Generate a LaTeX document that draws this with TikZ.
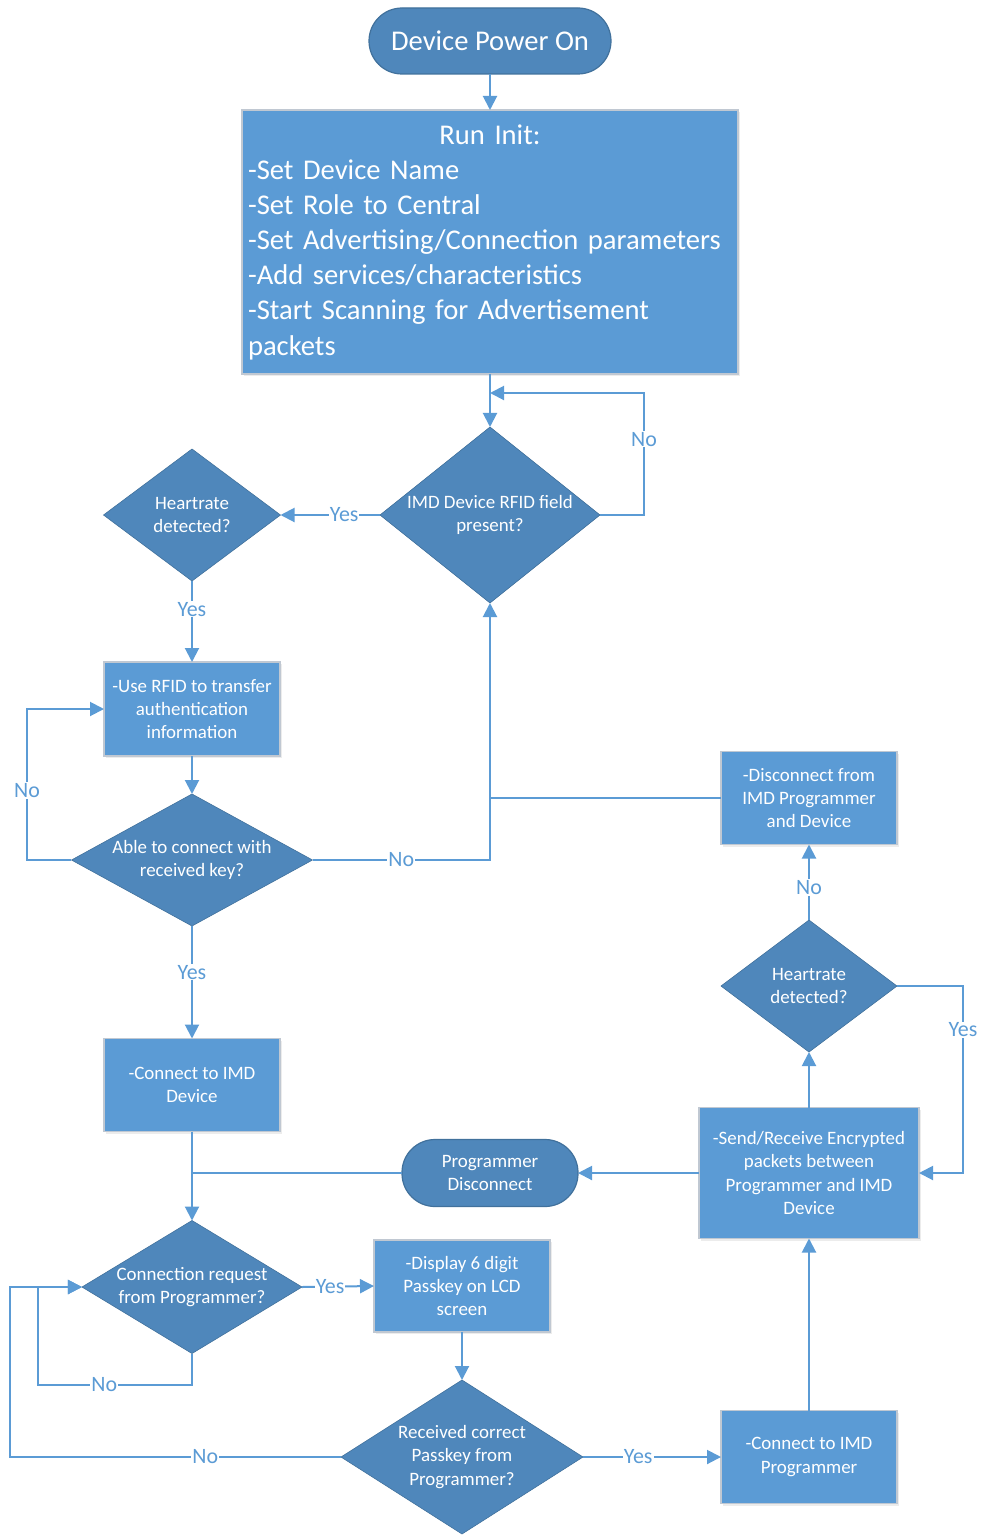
\documentclass[tikz,border=0pt]{standalone}
\usepackage{fontspec}
\setmainfont{Carlito}
\usetikzlibrary{arrows.meta,shapes.geometric,shadows}
\definecolor{boxblue}{RGB}{91,155,213}
\definecolor{decblue}{RGB}{79,135,187}
\definecolor{edgeblue}{RGB}{65,113,156}
\definecolor{boxedge}{RGB}{192,200,210}
\definecolor{lineblue}{RGB}{91,155,213}
\begin{document}
\begin{tikzpicture}[x=1bp,y=-1bp,
  base/.style={text=white, font=\fontsize{19}{23.2}\selectfont, inner sep=0pt, outer sep=0pt},
  bigtext/.style={font=\fontsize{28.7}{35.3}\selectfont},
  term/.style={base, rectangle, rounded corners=33bp, fill=decblue, draw=edgeblue,
    line width=1.2bp, align=center},
  procbox/.style={base, rectangle, fill=boxblue, draw=boxedge, line width=1.5bp,
    align=center, drop shadow={opacity=0.15, shadow xshift=1.5bp, shadow yshift=-2bp}},
  decision/.style={diamond, fill=decblue, draw=edgeblue, line width=0.6bp,
    inner sep=0pt, outer sep=0pt},
  dtext/.style={base, align=center},
  conn/.style={draw=lineblue, line width=2bp},
  arr/.style={conn, -{Triangle[length=14bp,width=14bp]}},
  lbl/.style={font=\fontsize{22}{24}\selectfont, text=lineblue, fill=white, inner sep=1bp}
]
\useasboundingbox (0,0) rectangle (983,1535);

% ---- nodes ----
\node[term, bigtext, minimum width=242bp, minimum height=66bp] (power) at (490,41) {Device Power On};

\node[procbox, bigtext, align=left, text width=484bp, minimum width=496bp, minimum height=264bp]
  (init) at (490,242) {\makebox[\linewidth][c]{Run Init:}\\
  -Set Device Name\\
  -Set Role to Central\\
  -Set Advertising/Connection parameters\\
  -Add services/characteristics\\
  -Start Scanning for Advertisement\\
  packets};

\node[decision, minimum width=220bp, minimum height=176bp] (d1) at (490,515) {};
\node[dtext] (d1t) at (d1) {IMD Device RFID field\\present?};

\node[decision, minimum width=177bp, minimum height=132bp] (d2) at (192,515) {};
\node[dtext] (d2t) at (d2) {Heartrate\\detected?};

\node[procbox, minimum width=176bp, minimum height=94bp] (rfid) at (192,709)
  {-Use RFID to transfer\\authentication\\information};

\node[decision, minimum width=241bp, minimum height=132bp] (d3) at (192,860) {};
\node[dtext] (d3t) at (d3) {Able to connect with\\received key?};

\node[procbox, minimum width=176bp, minimum height=93bp] (disc) at (809,798)
  {-Disconnect from\\IMD Programmer\\and Device};

\node[decision, minimum width=176bp, minimum height=132bp] (d4) at (809,986) {};
\node[dtext] (d4t) at (d4) {Heartrate\\detected?};

\node[procbox, minimum width=176bp, minimum height=93bp] (conndev) at (192,1085)
  {-Connect to IMD\\Device};

\node[procbox, minimum width=220bp, minimum height=131bp] (sr) at (809,1173)
  {-Send/Receive Encrypted\\packets between\\Programmer and IMD\\Device};

\node[term, minimum width=176bp, minimum height=67bp] (pdisc) at (490,1173)
  {Programmer\\Disconnect};

\node[decision, minimum width=220bp, minimum height=133bp] (d5) at (192,1287) {};
\node[dtext] (d5t) at (d5) {Connection request\\from Programmer?};

\node[procbox, minimum width=176bp, minimum height=92bp] (disp) at (462,1286)
  {-Display 6 digit\\Passkey on LCD\\screen};

\node[decision, minimum width=242bp, minimum height=154bp] (d6) at (462,1457) {};
\node[dtext] (d6t) at (d6) {Received correct\\Passkey from\\Programmer?};

\node[procbox, minimum width=176bp, minimum height=93bp] (connprog) at (809,1457)
  {-Connect to IMD\\Programmer};

% ---- bend points ----
\coordinate (n1a) at (644,515);
\coordinate (n1b) at (644,393);
\coordinate (n1c) at (490,393);
\coordinate (n3a) at (27,860);
\coordinate (n3b) at (27,709);
\coordinate (n3c) at (490,860);
\coordinate (dj) at (490,798);
\coordinate (y4a) at (963,986);
\coordinate (y4b) at (963,1173);
\coordinate (pj) at (192,1173);
\coordinate (n5a) at (192,1385);
\coordinate (n5b) at (38,1385);
\coordinate (n5c) at (38,1287);
\coordinate (n6a) at (10,1457);
\coordinate (n6b) at (10,1287);

% ---- connectors ----
\draw[arr] (power) -- (init);
\draw[arr] (init) -- (d1);
\draw[arr] (d1.east) -- (n1a) -- node[lbl, pos=0.62] {No} (n1b) -- (n1c);
\draw[arr] (d1.west) -- node[lbl, pos=0.36] {Yes} (d2.east);
\draw[arr] (d2.south) -- node[lbl, pos=0.35] {Yes} (rfid.north);
\draw[arr] (rfid) -- (d3);
\draw[arr] (d3.west) -- (n3a) -- node[lbl, pos=0.46] {No} (n3b) -- (rfid.west);
\draw[arr] (d3.east) -- node[lbl, pos=0.5] {No} (n3c) -- (d1.south);
\draw[conn] (disc.west) -- (dj);
\draw[arr] (d4.north) -- node[lbl, pos=0.43] {No} (disc.south);
\draw[arr] (sr.north) -- (d4.south);
\draw[arr] (d4.east) -- (y4a) -- node[lbl, pos=0.235] {Yes} (y4b) -- (sr.east);
\draw[arr] (sr.west) -- (pdisc.east);
\draw[conn] (pdisc.west) -- (pj);
\draw[arr] (d3.south) -- node[lbl, pos=0.41] {Yes} (conndev.north);
\draw[arr] (conndev.south) -- (d5.north);
\draw[arr] (d5.east) -- node[lbl, pos=0.39] {Yes} (disp.west);
\draw[arr] (d5.south) -- (n5a) -- node[lbl, pos=0.57] {No} (n5b) -- (n5c) -- (d5.west);
\draw[arr] (disp.south) -- (d6.north);
\draw[arr] (d6.west) -- node[lbl, pos=0.41] {No} (n6a) -- (n6b) -- (d5.west);
\draw[arr] (d6.east) -- node[lbl, pos=0.4] {Yes} (connprog.west);
\draw[arr] (connprog.north) -- (sr.south);
\end{tikzpicture}
\end{document}
